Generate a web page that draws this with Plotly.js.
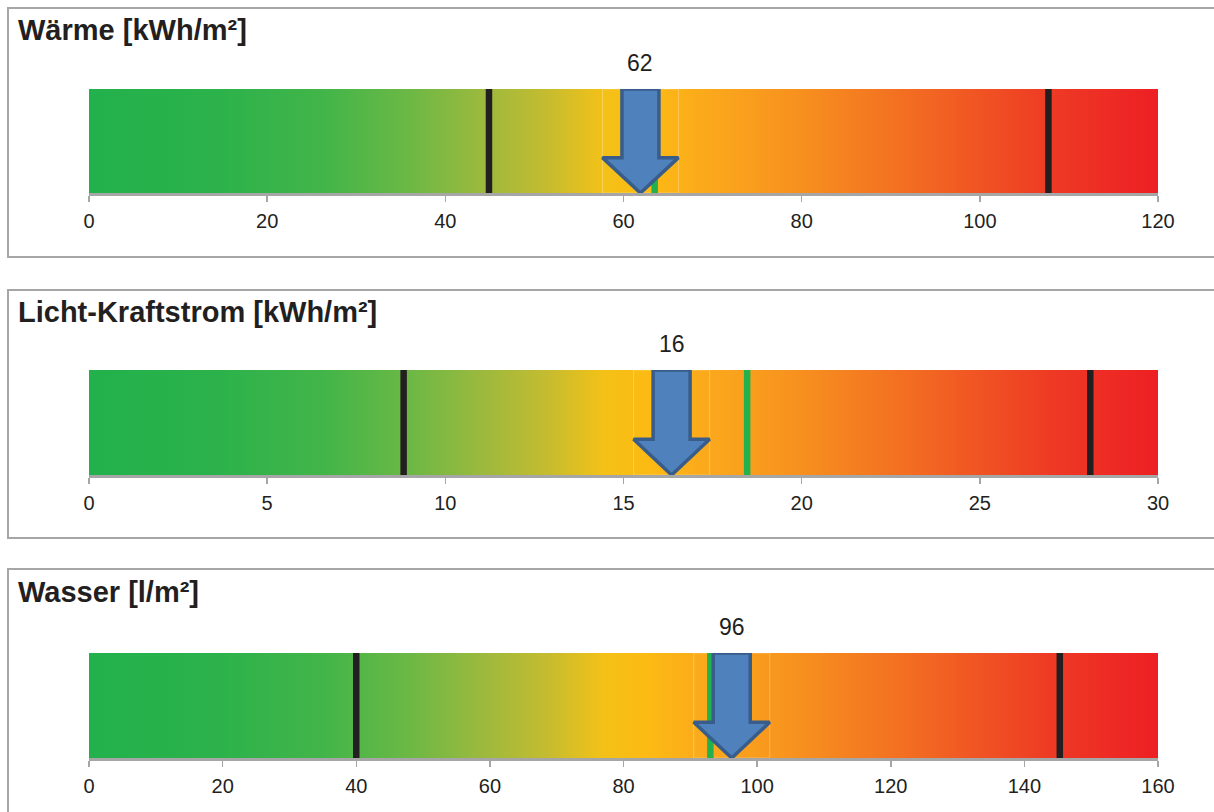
<!DOCTYPE html>
<html>
<head>
<meta charset="utf-8">
<script src="https://cdn.plot.ly/plotly-3.0.1.min.js"></script>
<style>
  html, body { margin: 0; padding: 0; background: #ffffff; }
  #chart { width: 1214px; height: 812px; }
</style>
</head>
<body>
<div id="chart"></div>
<script>
// ---- data ----
const panelTitles   = ['Wärme [kWh/m²]', 'Licht-Kraftstrom [kWh/m²]', 'Wasser [l/m²]'];
const axisMax       = [120, 30, 160];
const tickStep      = [20, 5, 20];
const lowMarks      = [44.9, 8.83, 40.0];     // left black marker
const highMarks     = [107.7, 28.1, 145.3];   // right black marker
const targetMarks   = [63.5, 18.47, 93.0];    // green marker
const actualValues  = [61.9, 16.35, 96.2];    // blue arrow
const valueLabels   = ['62', '16', '96'];

// ---- style / layout ----
const W = 1214, H = 812;
const FONT = 'Liberation Sans, Arial, Helvetica, sans-serif';
const plotLeft = 89, plotRight = 1158;
const plotPx = plotRight - plotLeft;
const barTops    = [89, 370, 653];
const barBottoms = [193, 475, 758];
const titleY     = [30, 312, 592];
const labelY     = [63, 344, 627];
const boxes      = [[8, 257], [290, 538], [569, 840]];
const gradient = [
  [0.00, '#22b14c'], [0.12, '#2cb24b'], [0.22, '#42b549'], [0.30, '#6cb845'],
  [0.37, '#9db93d'], [0.43, '#c6bc2f'], [0.48, '#f3c118'], [0.52, '#fcbb13'],
  [0.58, '#fba81c'], [0.66, '#f7921e'], [0.78, '#f26822'], [0.90, '#ee3a24'],
  [1.00, '#ed1f24']
];

const px2py = p => 1 - p / H;
const traces = [];
const annotations = [];
const shapes = [];
const layout = {
  width: W, height: H,
  margin: { l: 0, r: 0, t: 0, b: 0 },
  paper_bgcolor: '#ffffff', plot_bgcolor: 'rgba(0,0,0,0)',
  showlegend: false, hovermode: false,
  font: { family: FONT, color: '#231f20' }
};

panelTitles.forEach((title, i) => {
  const sfx = i === 0 ? '' : String(i + 1);
  const xa = 'x' + sfx, ya = 'y' + sfx;
  const max = axisMax[i];
  const unitPerPx = max / plotPx;

  // gradient bar
  traces.push({
    type: 'scatter', xaxis: xa, yaxis: ya, mode: 'lines',
    x: [0, max, max, 0, 0], y: [0, 0, 1, 1, 0],
    fill: 'toself', fillcolor: '#f7941e',
    fillgradient: { type: 'horizontal', colorscale: gradient },
    line: { width: 0 }, hoverinfo: 'skip'
  });

  // faint box around arrow
  const v = actualValues[i];
  const hh = 38 * unitPerPx, hs = 18.5 * unitPerPx;
  traces.push({
    type: 'scatter', xaxis: xa, yaxis: ya, mode: 'lines',
    x: [v - hh, v + hh, v + hh, v - hh, v - hh], y: [0, 0, 1, 1, 0],
    line: { color: 'rgba(255,255,255,0.28)', width: 1 }, hoverinfo: 'skip'
  });

  // black markers
  traces.push({
    type: 'scatter', xaxis: xa, yaxis: ya, mode: 'lines',
    x: [lowMarks[i], lowMarks[i], null, highMarks[i], highMarks[i]],
    y: [0, 1, null, 0, 1],
    line: { color: '#231f20', width: 6.5 }, hoverinfo: 'skip'
  });

  // green marker
  traces.push({
    type: 'scatter', xaxis: xa, yaxis: ya, mode: 'lines',
    x: [targetMarks[i], targetMarks[i]], y: [0, 1],
    line: { color: '#22b14c', width: 6.5 }, hoverinfo: 'skip'
  });

  // blue arrow
  const headY = 0.34;
  traces.push({
    type: 'scatter', xaxis: xa, yaxis: ya, mode: 'lines',
    x: [v - hs, v + hs, v + hs, v + hh, v, v - hh, v - hs, v - hs],
    y: [1, 1, headY, headY, 0, headY, headY, 1],
    fill: 'toself', fillcolor: '#4f81bd',
    line: { color: '#385d8a', width: 3.5 }, hoverinfo: 'skip'
  });

  // axes
  layout['xaxis' + sfx] = {
    domain: [plotLeft / W, plotRight / W], anchor: ya,
    range: [0, max], tick0: 0, dtick: tickStep[i],
    showgrid: false, zeroline: false,
    showline: true, linecolor: '#a6a6a6', linewidth: 2.5,
    ticks: 'outside', ticklen: 6, tickwidth: 1.5, tickcolor: '#a6a6a6',
    ticklabelstandoff: 2,
    tickfont: { family: FONT, size: 20, color: '#231f20' },
    fixedrange: true
  };
  layout['yaxis' + sfx] = {
    domain: [px2py(barBottoms[i]), px2py(barTops[i])], anchor: xa,
    range: [0, 1], visible: false, fixedrange: true
  };

  // title
  annotations.push({
    xref: 'paper', yref: 'paper', x: 16 / W, y: px2py(titleY[i]),
    xanchor: 'left', yanchor: 'middle', showarrow: false,
    text: '<b>' + title + '</b>',
    font: { family: FONT, size: 29, color: '#231f20' }
  });
  // value label
  annotations.push({
    xref: xa, yref: 'paper', x: v, y: px2py(labelY[i]),
    xanchor: 'center', yanchor: 'middle', showarrow: false,
    text: valueLabels[i],
    font: { family: FONT, size: 23, color: '#231f20' }
  });

  // panel border
  shapes.push({
    type: 'rect', xref: 'paper', yref: 'paper',
    x0: 8 / W, x1: 1.02, y0: px2py(boxes[i][1]), y1: px2py(boxes[i][0]),
    line: { color: '#a6a6a6', width: 2 }, fillcolor: 'rgba(0,0,0,0)', layer: 'below'
  });
});

layout.annotations = annotations;
layout.shapes = shapes;

Plotly.newPlot('chart', traces, layout, { displayModeBar: false, staticPlot: true });
</script>
</body>
</html>
